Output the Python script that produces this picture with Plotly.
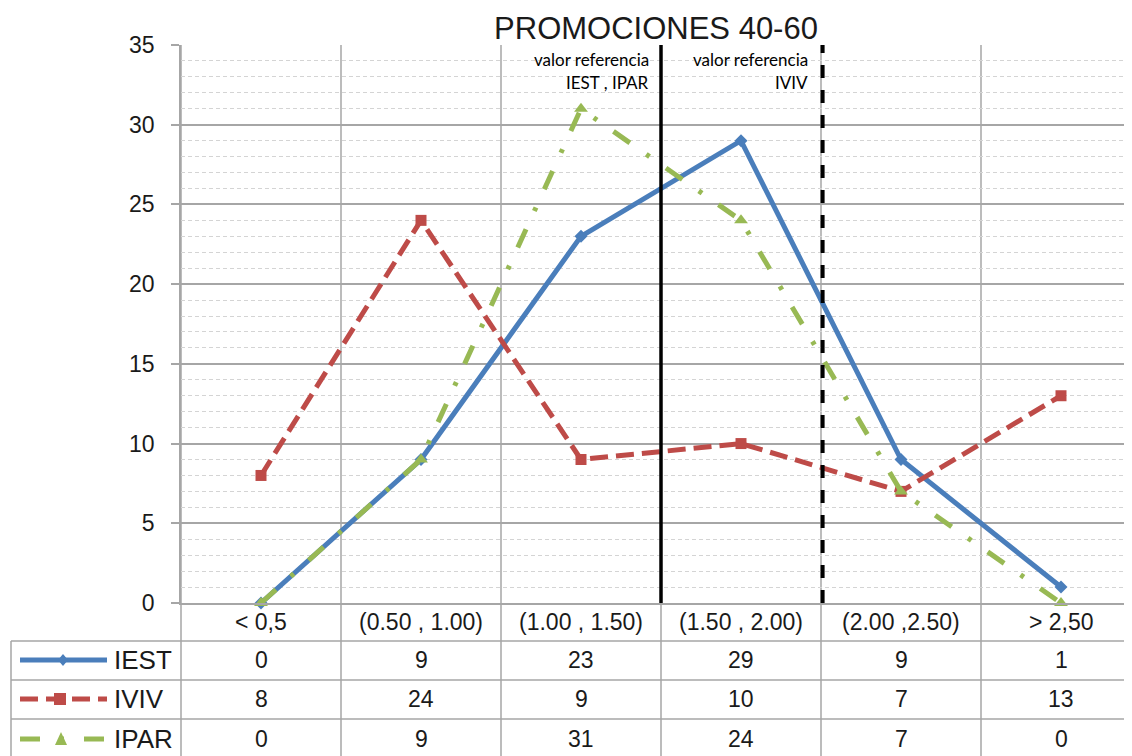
import plotly.graph_objects as go

categories = ["< 0,5", "(0.50 , 1.00)", "(1.00 , 1.50)", "(1.50 , 2.00)", "(2.00 ,2.50)", "> 2,50"]
series_names = ["IEST", "IVIV", "IPAR"]
iest = [0, 9, 23, 29, 9, 1]
iviv = [8, 24, 9, 10, 7, 13]
ipar = [0, 9, 31, 24, 7, 0]
y_ticks = [0, 5, 10, 15, 20, 25, 30, 35]

# page body margin offset (figure div starts at 8,8 in the page)
OFF = 8
PAGE_W, PAGE_H = 1132, 756
W, H = PAGE_W - OFF, PAGE_H - OFF
# reference page pixel geometry
REF_L, REF_T, REF_B = 181, 45, 603
L, T, B_PX = REF_L - OFF, REF_T - OFF, REF_B - OFF
X0, X1 = -0.5, 5.5 - 9 / 160.0
plot_w = W - L
plot_h = B_PX - T

def px_x(p):
    return (p - OFF - L) / plot_w

def px_y(p):
    return (B_PX - (p - OFF)) / plot_h

def cat_to_paper(c):
    return (c - X0) / (X1 - X0)

FONT = "Liberation Sans, Arial, sans-serif"
BLUE = "#4a7ebb"
RED = "#be4b48"
GREEN = "#98b954"
GRID = "#a6a6a6"
TXT = "#1a1a1a"

styles = {
    "IEST": dict(color=BLUE, dash="solid", symbol="diamond", size=10),
    "IVIV": dict(color=RED, dash="18px,8px", symbol="square", size=11),
    "IPAR": dict(color=GREEN, dash="20px,20px,4px,20px", symbol="triangle-up", size=12),
}
values = {"IEST": iest, "IVIV": iviv, "IPAR": ipar}

fig = go.Figure()
xs = list(range(len(categories)))
for name in series_names:
    s = styles[name]
    fig.add_trace(go.Scatter(
        x=xs, y=values[name], mode="lines+markers", name=name,
        line=dict(color=s["color"], width=5, dash=s["dash"]),
        marker=dict(symbol=s["symbol"], size=s["size"], color=s["color"]),
        cliponaxis=False, showlegend=False,
    ))

shapes = []
bottom = px_y(PAGE_H + 2)
# vertical category boundaries (through table)
for i in range(len(categories)):
    b = cat_to_paper(i - 0.5)
    shapes.append(dict(type="line", xref="paper", yref="paper", x0=b, x1=b,
                       y0=bottom, y1=1, line=dict(color=GRID, width=1.5), layer="below"))
# table horizontal lines
for p in [641, 680, 719]:
    shapes.append(dict(type="line", xref="paper", yref="paper", x0=px_x(11), x1=1.0,
                       y0=px_y(p), y1=px_y(p), line=dict(color=GRID, width=1.5), layer="below"))
# table left border
shapes.append(dict(type="line", xref="paper", yref="paper", x0=px_x(11), x1=px_x(11),
                   y0=bottom, y1=px_y(641), line=dict(color=GRID, width=1.5), layer="below"))
# reference lines
shapes.append(dict(type="line", xref="paper", yref="paper", x0=cat_to_paper(2.5), x1=cat_to_paper(2.5),
                   y0=0, y1=1, line=dict(color="black", width=3.5), layer="above"))
shapes.append(dict(type="line", xref="paper", yref="paper", x0=cat_to_paper(3.51), x1=cat_to_paper(3.51),
                   y0=0, y1=1, line=dict(color="black", width=4, dash="13px,12px"), layer="above"))

# legend samples in table
row_centers = [660, 699, 739]
for name, yc in zip(series_names, row_centers):
    s = styles[name]
    shapes.append(dict(type="line", xref="paper", yref="paper", x0=px_x(20), x1=px_x(107),
                       y0=px_y(yc), y1=px_y(yc),
                       line=dict(color=s["color"], width=5, dash=s["dash"])))

def path(points):
    return "M " + " L ".join(f"{px_x(a)},{px_y(b)}" for a, b in points) + " Z"

shapes.append(dict(type="path", xref="paper", yref="paper",
                   path=path([(63, 654), (68, 660), (63, 666), (58, 660)]),
                   fillcolor=BLUE, line=dict(width=0)))
shapes.append(dict(type="path", xref="paper", yref="paper",
                   path=path([(54, 693), (66, 693), (66, 705), (54, 705)]),
                   fillcolor=RED, line=dict(width=0)))
shapes.append(dict(type="path", xref="paper", yref="paper",
                   path=path([(61, 732), (67, 745), (55, 745)]),
                   fillcolor=GREEN, line=dict(width=0)))

annotations = []
# category labels
for i, c in enumerate(categories):
    annotations.append(dict(x=i, xref="x", y=px_y(622), yref="paper", text=c, showarrow=False,
                            xanchor="center", yanchor="middle", font=dict(family=FONT, size=23, color=TXT)))
# table rows
for name, yc in zip(series_names, row_centers):
    annotations.append(dict(x=px_x(112), xref="paper", y=px_y(yc), yref="paper", text=name,
                            showarrow=False, xanchor="left", yanchor="middle",
                            font=dict(family=FONT, size=26, color=TXT)))
    for i, v in enumerate(values[name]):
        annotations.append(dict(x=i, xref="x", y=px_y(yc), yref="paper", text=str(v),
                                showarrow=False, xanchor="center", yanchor="middle",
                                font=dict(family=FONT, size=23, color=TXT)))
# reference notes
NOTE_FONT = dict(family="Lato, Open Sans, sans-serif", size=17, color="black")
for xr, lines in [(651, ["valor referencia", "IEST , IPAR"]), (810, ["valor referencia", "IVIV"])]:
    for yc, t in zip([60, 83], lines):
        annotations.append(dict(x=px_x(xr), xref="paper", y=px_y(yc), yref="paper", text=t,
                                showarrow=False, xanchor="right", yanchor="middle", font=NOTE_FONT))

fig.update_layout(
    width=W, height=H,
    margin=dict(l=L, r=0, t=T, b=H - B_PX, pad=0),
    paper_bgcolor="white", plot_bgcolor="white",
    title=dict(text="PROMOCIONES 40-60", x=px_x(656), xref="paper", xanchor="center",
               y=1 - (28 - OFF) / H, yanchor="middle", font=dict(family=FONT, size=31, color=TXT)),
    xaxis=dict(range=[X0, X1], showgrid=False, zeroline=False, showticklabels=False,
               showline=True, linecolor=GRID, linewidth=1.5, ticks=""),
    yaxis=dict(range=[0, 35], tickvals=y_ticks, ticktext=[str(t) for t in y_ticks],
               showgrid=True, gridcolor=GRID, gridwidth=1.5, zeroline=False,
               showline=True, linecolor=GRID, linewidth=1.5,
               ticks="outside", ticklen=8, tickcolor=GRID, tickwidth=1.5,
               ticklabelstandoff=12,
               tickfont=dict(family=FONT, size=23, color=TXT),
               minor=dict(dtick=1, showgrid=True, gridcolor="#d4d4d4", gridwidth=1,
                          griddash="4px,3px", ticks="")),
    shapes=shapes,
    annotations=annotations,
)

fig.write_html("out.html")
